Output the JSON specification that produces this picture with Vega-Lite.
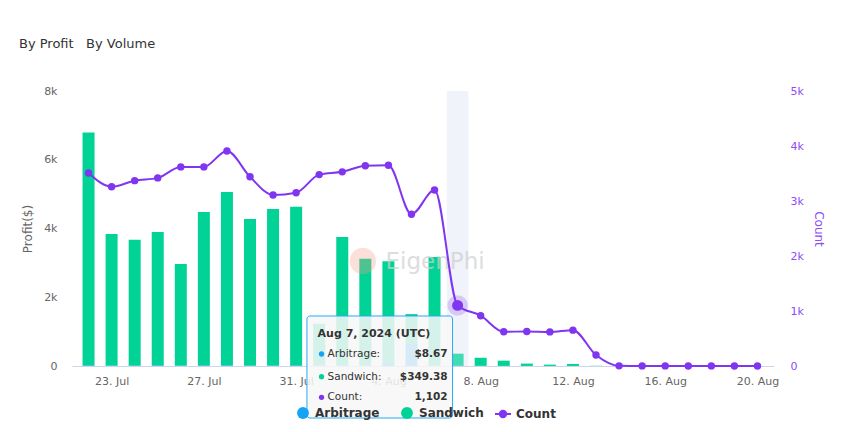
{
  "$schema": "https://vega.github.io/schema/vega-lite/v6.json",
  "width": 702,
  "height": 275,
  "autosize": "none",
  "padding": {"left": 72, "top": 91, "right": 73, "bottom": 66},
  "background": "white",
  "config": {
    "font": "DejaVu Sans",
    "view": {"stroke": null},
    "axis": {"grid": false, "ticks": false, "labelFont": "DejaVu Sans", "titleFont": "DejaVu Sans"},
    "legend": {"labelFont": "DejaVu Sans"}
  },
  "title": {
    "text": "By Profit\u00a0\u00a0\u00a0By Volume",
    "anchor": "start",
    "frame": "group",
    "dx": -53,
    "offset": 34,
    "fontSize": 13,
    "fontWeight": "normal",
    "color": "#333333"
  },
  "data": {
    "values": [
      {"date": "2024-07-22", "Arbitrage": 20, "Sandwich": 6770, "Count": 3510},
      {"date": "2024-07-23", "Arbitrage": 15, "Sandwich": 3825, "Count": 3260},
      {"date": "2024-07-24", "Arbitrage": 15, "Sandwich": 3655, "Count": 3370},
      {"date": "2024-07-25", "Arbitrage": 20, "Sandwich": 3880, "Count": 3420},
      {"date": "2024-07-26", "Arbitrage": 15, "Sandwich": 2955, "Count": 3620},
      {"date": "2024-07-27", "Arbitrage": 20, "Sandwich": 4460, "Count": 3620},
      {"date": "2024-07-28", "Arbitrage": 20, "Sandwich": 5040, "Count": 3910},
      {"date": "2024-07-29", "Arbitrage": 15, "Sandwich": 4265, "Count": 3440},
      {"date": "2024-07-30", "Arbitrage": 15, "Sandwich": 4555, "Count": 3110},
      {"date": "2024-07-31", "Arbitrage": 20, "Sandwich": 4610, "Count": 3150},
      {"date": "2024-08-01", "Arbitrage": 15, "Sandwich": 1215, "Count": 3480},
      {"date": "2024-08-02", "Arbitrage": 20, "Sandwich": 3730, "Count": 3530},
      {"date": "2024-08-03", "Arbitrage": 15, "Sandwich": 3105, "Count": 3640},
      {"date": "2024-08-04", "Arbitrage": 90, "Sandwich": 2960, "Count": 3650},
      {"date": "2024-08-05", "Arbitrage": 640, "Sandwich": 870, "Count": 2760},
      {"date": "2024-08-06", "Arbitrage": 20, "Sandwich": 3150, "Count": 3200},
      {"date": "2024-08-07", "Arbitrage": 8.67, "Sandwich": 349.38, "Count": 1102},
      {"date": "2024-08-08", "Arbitrage": 5, "Sandwich": 235, "Count": 915},
      {"date": "2024-08-09", "Arbitrage": 3, "Sandwich": 152, "Count": 622},
      {"date": "2024-08-10", "Arbitrage": 2, "Sandwich": 68, "Count": 628},
      {"date": "2024-08-11", "Arbitrage": 1, "Sandwich": 39, "Count": 620},
      {"date": "2024-08-12", "Arbitrage": 2, "Sandwich": 58, "Count": 652},
      {"date": "2024-08-13", "Arbitrage": 0, "Sandwich": 6, "Count": 200},
      {"date": "2024-08-14", "Arbitrage": 0, "Sandwich": 0, "Count": 3},
      {"date": "2024-08-15", "Arbitrage": 0, "Sandwich": 0, "Count": 2},
      {"date": "2024-08-16", "Arbitrage": 0, "Sandwich": 0, "Count": 2},
      {"date": "2024-08-17", "Arbitrage": 0, "Sandwich": 0, "Count": 1},
      {"date": "2024-08-18", "Arbitrage": 0, "Sandwich": 0, "Count": 2},
      {"date": "2024-08-19", "Arbitrage": 0, "Sandwich": 0, "Count": 1},
      {"date": "2024-08-20", "Arbitrage": 0, "Sandwich": 0, "Count": 1}
    ]
  },
  "layer": [
    {
      "layer": [
        {
          "data": {"values": [{}]},
          "mark": {"type": "rect", "color": "#f0f3f9"},
          "encoding": {
            "x": {"datum": {"year": 2024, "month": 8, "date": 6, "hours": 12, "minutes": 40, "utc": true}, "type": "temporal"},
            "x2": {"datum": {"year": 2024, "month": 8, "date": 7, "hours": 11, "minutes": 15, "utc": true}},
            "y": {"datum": 0, "type": "quantitative"},
            "y2": {"datum": 8000}
          }
        },
        {
          "transform": [{"fold": ["Arbitrage", "Sandwich"], "as": ["type", "profit"]}],
          "mark": {"type": "bar", "width": 12},
          "encoding": {
            "x": {
              "field": "date",
              "type": "temporal",
              "scale": {
                "type": "utc",
                "domain": [
                  {"year": 2024, "month": 7, "date": 21, "hours": 12, "utc": true},
                  {"year": 2024, "month": 8, "date": 20, "hours": 12, "utc": true}
                ]
              },
              "axis": {
                "title": null,
                "values": [
                  {"year": 2024, "month": 7, "date": 23, "utc": true},
                  {"year": 2024, "month": 7, "date": 27, "utc": true},
                  {"year": 2024, "month": 7, "date": 31, "utc": true},
                  {"year": 2024, "month": 8, "date": 4, "utc": true},
                  {"year": 2024, "month": 8, "date": 8, "utc": true},
                  {"year": 2024, "month": 8, "date": 12, "utc": true},
                  {"year": 2024, "month": 8, "date": 16, "utc": true},
                  {"year": 2024, "month": 8, "date": 20, "utc": true}
                ],
                "labelExpr": "utcFormat(datum.value, '%-d. %b')",
                "labelColor": "#666666",
                "labelFontSize": 11,
                "labelPadding": 9,
                "domainColor": "#ccd6eb",
                "labelFlush": false
              }
            },
            "y": {
              "field": "profit",
              "type": "quantitative",
              "stack": "zero",
              "scale": {"domain": [0, 8000], "nice": false},
              "axis": {
                "orient": "left",
                "title": "Profit($)",
                "titleColor": "#666666",
                "titleFontWeight": "normal",
                "titleFontSize": 12,
                "titlePadding": 9,
                "values": [0, 2000, 4000, 6000, 8000],
                "labelExpr": "datum.value === 0 ? '0' : (datum.value / 1000) + 'k'",
                "labelColor": "#666666",
                "labelFontSize": 11,
                "labelPadding": 15,
                "domain": false
              }
            },
            "color": {
              "field": "type",
              "type": "nominal",
              "scale": {"domain": ["Arbitrage", "Sandwich"], "range": ["#13a4f5", "#00d395"]},
              "legend": {
                "orient": "none",
                "legendX": 225,
                "legendY": 316,
                "direction": "horizontal",
                "title": null,
                "symbolType": "circle",
                "symbolSize": 140,
                "symbolStrokeWidth": 0,
                "symbolOpacity": 1,
                "labelFontSize": 12,
                "labelFontWeight": "bold",
                "labelColor": "#333333",
                "columnPadding": 21,
                "labelOffset": 6
              }
            },
            "order": {"field": "type", "sort": "ascending"},
            "opacity": {
              "condition": {"test": "utcdate(datum.date) === 7 && utcmonth(datum.date) === 7", "value": 0.72},
              "value": 1
            }
          }
        },
        {
          "data": {"values": [{}]},
          "mark": {"type": "circle", "size": 700, "color": "#f4a08a", "opacity": 0.32},
          "encoding": {
            "x": {"datum": {"year": 2024, "month": 8, "date": 2, "hours": 21, "minutes": 25, "utc": true}, "type": "temporal"},
            "y": {"datum": 3055, "type": "quantitative"}
          }
        },
        {
          "data": {"values": [{}]},
          "mark": {"type": "text", "text": "EigenPhi", "fontSize": 23, "color": "#cfcfcf", "opacity": 0.7, "align": "left", "baseline": "middle"},
          "encoding": {
            "x": {"datum": {"year": 2024, "month": 8, "date": 3, "hours": 21, "utc": true}, "type": "temporal"},
            "y": {"datum": 3025, "type": "quantitative"}
          }
        },
        {
          "data": {"values": [{}]},
          "mark": {"type": "rect", "fill": "#f7f7f7", "fillOpacity": 0.86, "stroke": "#29a9f5", "strokeWidth": 1, "cornerRadius": 3},
          "encoding": {
            "x": {"datum": {"year": 2024, "month": 7, "date": 31, "hours": 11, "minutes": 15, "utc": true}, "type": "temporal"},
            "x2": {"datum": {"year": 2024, "month": 8, "date": 6, "hours": 18, "minutes": 45, "utc": true}},
            "y": {"datum": 1455, "type": "quantitative"},
            "y2": {"datum": -1513}
          }
        },
        {
          "data": {"values": [{}]},
          "mark": {"type": "text", "text": "Aug 7, 2024 (UTC)", "fontSize": 11, "fontWeight": "bold", "color": "#333333", "align": "left", "baseline": "middle"},
          "encoding": {
            "x": {"datum": {"year": 2024, "month": 7, "date": 31, "hours": 22, "minutes": 20, "utc": true}, "type": "temporal"},
            "y": {"datum": 931, "type": "quantitative"}
          }
        },
        {
          "data": {"values": [{}]},
          "mark": {"type": "circle", "size": 28, "color": "#13a4f5", "opacity": 1},
          "encoding": {
            "x": {"datum": {"year": 2024, "month": 8, "date": 1, "hours": 2, "minutes": 25, "utc": true}, "type": "temporal"},
            "y": {"datum": 349, "type": "quantitative"}
          }
        },
        {
          "data": {"values": [{}]},
          "mark": {"type": "circle", "size": 28, "color": "#00d395", "opacity": 1},
          "encoding": {
            "x": {"datum": {"year": 2024, "month": 8, "date": 1, "hours": 2, "minutes": 25, "utc": true}, "type": "temporal"},
            "y": {"datum": -311, "type": "quantitative"}
          }
        },
        {
          "data": {"values": [{}]},
          "mark": {"type": "circle", "size": 28, "color": "#8035f0", "opacity": 1},
          "encoding": {
            "x": {"datum": {"year": 2024, "month": 8, "date": 1, "hours": 2, "minutes": 25, "utc": true}, "type": "temporal"},
            "y": {"datum": -911, "type": "quantitative"}
          }
        },
        {
          "data": {"values": [{}]},
          "mark": {"type": "text", "text": "Arbitrage:", "fontSize": 10.5, "color": "#333333", "align": "left", "baseline": "middle"},
          "encoding": {
            "x": {"datum": {"year": 2024, "month": 8, "date": 1, "hours": 8, "minutes": 40, "utc": true}, "type": "temporal"},
            "y": {"datum": 349, "type": "quantitative"}
          }
        },
        {
          "data": {"values": [{}]},
          "mark": {"type": "text", "text": "Sandwich:", "fontSize": 10.5, "color": "#333333", "align": "left", "baseline": "middle"},
          "encoding": {
            "x": {"datum": {"year": 2024, "month": 8, "date": 1, "hours": 8, "minutes": 40, "utc": true}, "type": "temporal"},
            "y": {"datum": -311, "type": "quantitative"}
          }
        },
        {
          "data": {"values": [{}]},
          "mark": {"type": "text", "text": "Count:", "fontSize": 10.5, "color": "#333333", "align": "left", "baseline": "middle"},
          "encoding": {
            "x": {"datum": {"year": 2024, "month": 8, "date": 1, "hours": 8, "minutes": 40, "utc": true}, "type": "temporal"},
            "y": {"datum": -911, "type": "quantitative"}
          }
        },
        {
          "data": {"values": [{}]},
          "mark": {"type": "text", "text": "$8.67", "fontSize": 10.5, "fontWeight": "bold", "color": "#333333", "align": "right", "baseline": "middle"},
          "encoding": {
            "x": {"datum": {"year": 2024, "month": 8, "date": 6, "hours": 13, "minutes": 40, "utc": true}, "type": "temporal"},
            "y": {"datum": 349, "type": "quantitative"}
          }
        },
        {
          "data": {"values": [{}]},
          "mark": {"type": "text", "text": "$349.38", "fontSize": 10.5, "fontWeight": "bold", "color": "#333333", "align": "right", "baseline": "middle"},
          "encoding": {
            "x": {"datum": {"year": 2024, "month": 8, "date": 6, "hours": 13, "minutes": 40, "utc": true}, "type": "temporal"},
            "y": {"datum": -311, "type": "quantitative"}
          }
        },
        {
          "data": {"values": [{}]},
          "mark": {"type": "text", "text": "1,102", "fontSize": 10.5, "fontWeight": "bold", "color": "#333333", "align": "right", "baseline": "middle"},
          "encoding": {
            "x": {"datum": {"year": 2024, "month": 8, "date": 6, "hours": 13, "minutes": 40, "utc": true}, "type": "temporal"},
            "y": {"datum": -911, "type": "quantitative"}
          }
        }
      ]
    },
    {
      "layer": [
        {
          "mark": {"type": "line", "interpolate": "monotone", "strokeWidth": 2},
          "encoding": {
            "x": {"field": "date", "type": "temporal"},
            "y": {
              "field": "Count",
              "type": "quantitative",
              "scale": {"domain": [0, 5000], "nice": false},
              "axis": {
                "orient": "right",
                "title": "Count",
                "titleColor": "#8f4df5",
                "titleFontWeight": "normal",
                "titleFontSize": 12,
                "titlePadding": 8,
                "values": [0, 1000, 2000, 3000, 4000, 5000],
                "labelExpr": "datum.value === 0 ? '0' : (datum.value / 1000) + 'k'",
                "labelColor": "#8f4df5",
                "labelFontSize": 11,
                "labelPadding": 16,
                "domain": false
              }
            },
            "stroke": {
              "datum": "Count",
              "type": "nominal",
              "scale": {"domain": ["Count"], "range": ["#8035f0"]},
              "legend": {
                "orient": "none",
                "legendX": 422,
                "legendY": 314,
                "title": null,
                "symbolType": "M-1,0L1,0M-0.4,0A0.4,0.4,0,1,0,0.4,0A0.4,0.4,0,1,0,-0.4,0Z",
                "symbolSize": 256,
                "symbolFillColor": "#8035f0",
                "symbolStrokeColor": "#8035f0",
                "symbolStrokeWidth": 2,
                "symbolOpacity": 1,
                "labelFontSize": 12,
                "labelFontWeight": "bold",
                "labelColor": "#333333",
                "labelOffset": 4
              }
            }
          }
        },
        {
          "mark": {"type": "circle", "size": 55, "color": "#8035f0", "opacity": 1},
          "encoding": {
            "x": {"field": "date", "type": "temporal"},
            "y": {"field": "Count", "type": "quantitative"}
          }
        },
        {
          "transform": [{"filter": "utcdate(datum.date) === 7 && utcmonth(datum.date) === 7"}],
          "mark": {"type": "circle", "size": 420, "color": "#8035f0", "opacity": 0.22},
          "encoding": {
            "x": {"field": "date", "type": "temporal"},
            "y": {"field": "Count", "type": "quantitative"}
          }
        },
        {
          "transform": [{"filter": "utcdate(datum.date) === 7 && utcmonth(datum.date) === 7"}],
          "mark": {"type": "circle", "size": 120, "color": "#8035f0", "opacity": 1},
          "encoding": {
            "x": {"field": "date", "type": "temporal"},
            "y": {"field": "Count", "type": "quantitative"}
          }
        }
      ]
    }
  ],
  "resolve": {"scale": {"y": "independent"}}
}
